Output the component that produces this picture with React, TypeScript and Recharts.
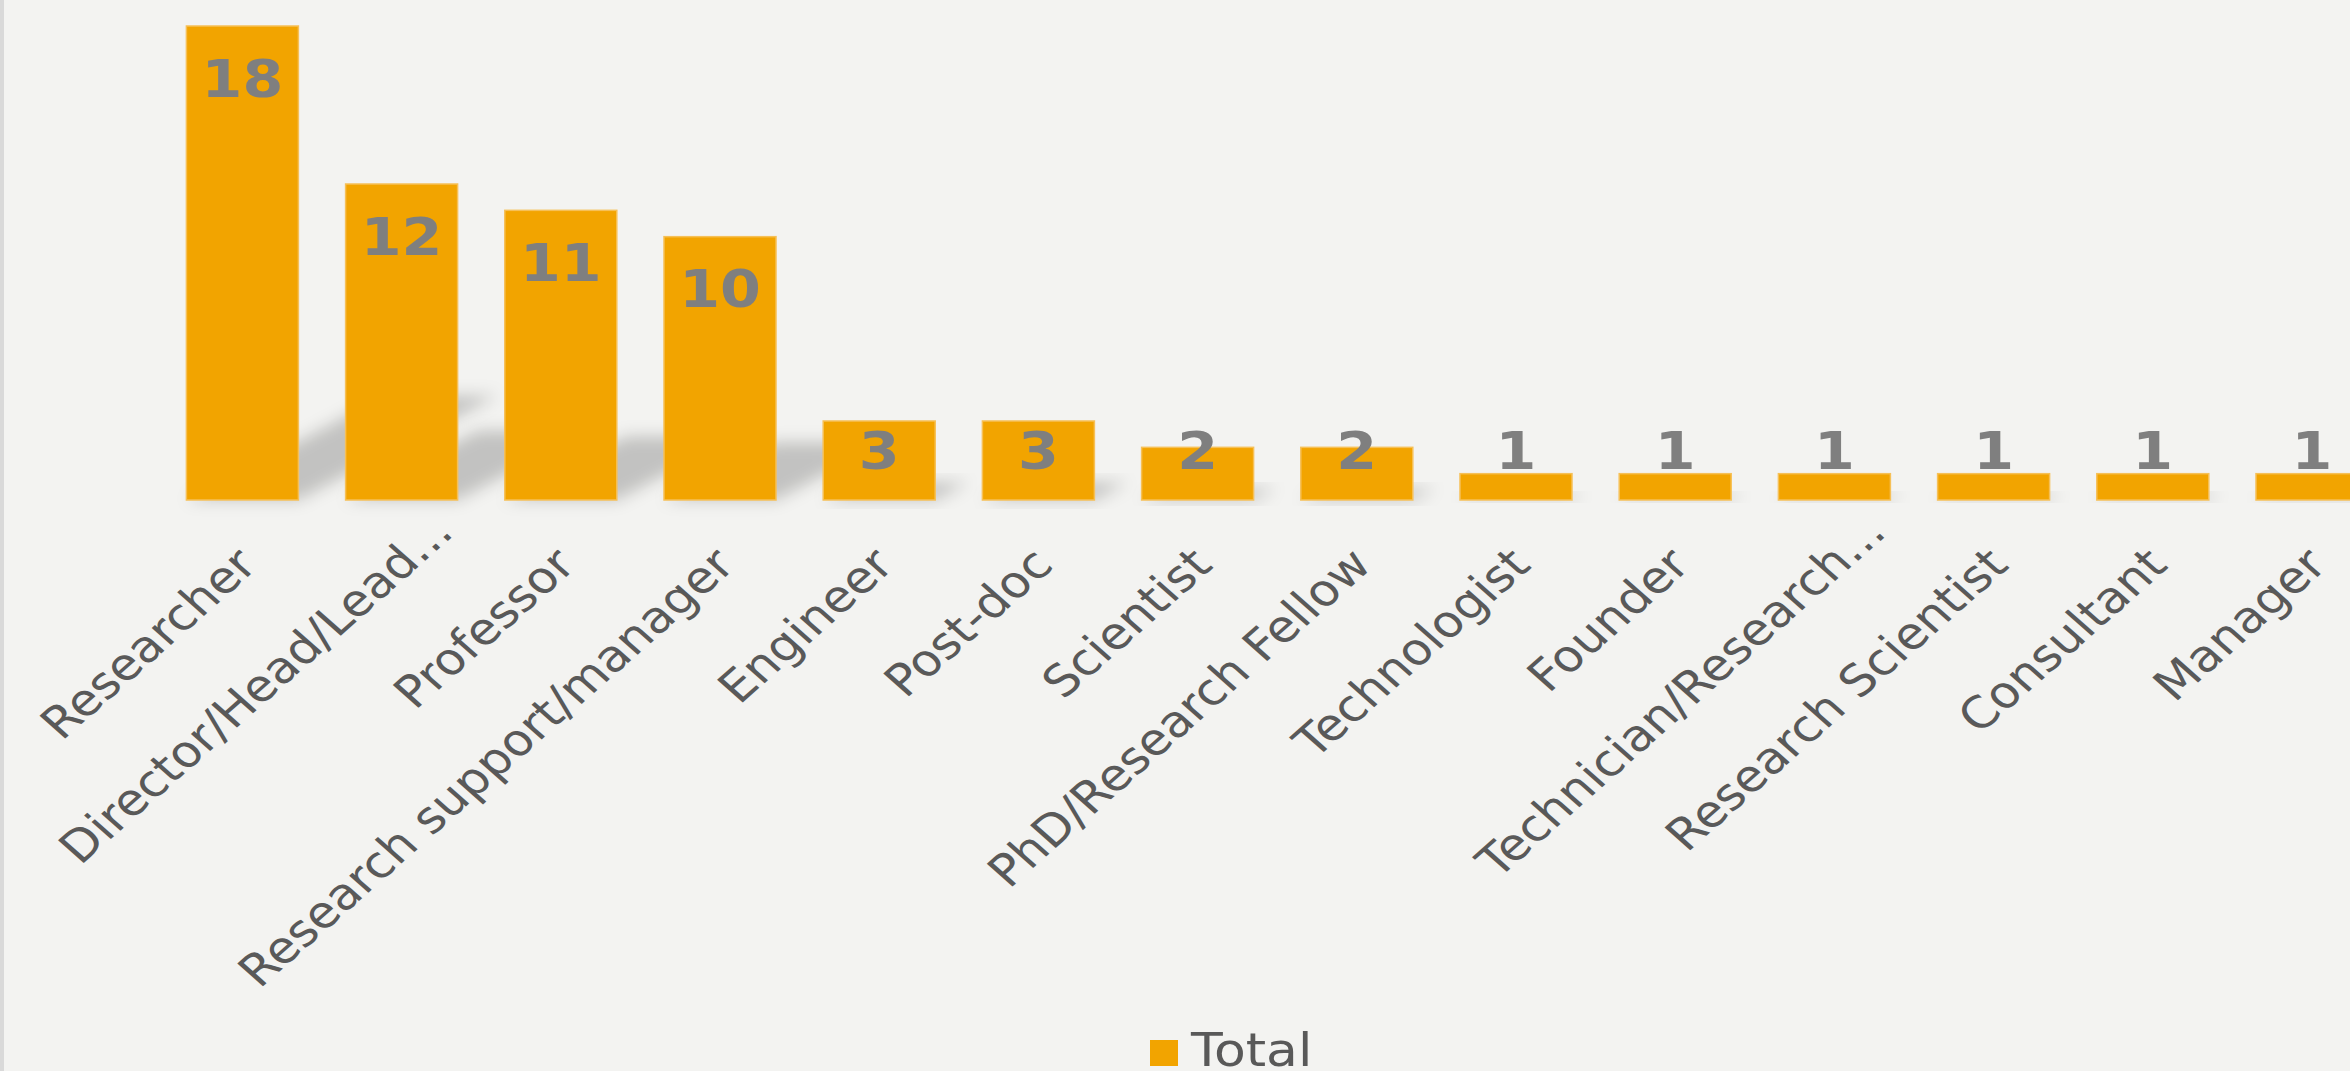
import React from 'react'
import { BarChart, Bar, XAxis, YAxis, Legend, LabelList } from 'recharts'

const categories = [
  'Researcher',
  'Director/Head/Lead...',
  'Professor',
  'Research support/manager',
  'Engineer',
  'Post-doc',
  'Scientist',
  'PhD/Research Fellow',
  'Technologist',
  'Founder',
  'Technician/Research...',
  'Research Scientist',
  'Consultant',
  'Manager',
]

const totals = [18, 12, 11, 10, 3, 3, 2, 2, 1, 1, 1, 1, 1, 1]

const seriesName = 'Total'

const data = categories.map((name, i) => ({ name, total: totals[i] }))

const BAR_COLOR = '#F2A400'
const FONT = '"DejaVu Sans", Verdana, sans-serif'
const STRETCH = 1.13
const CHART_W = 2470
const CHART_H = 1100

// bar with a soft perspective shadow thrown up and to the right
const ShadowBar = (props: any) => {
  const { x, y, width, height, index } = props
  if (!height || height <= 0) return null
  const base = y + height
  const dx = height * 0.42
  const dy = height * 0.22
  const id = `bar-shadow-${index}`
  const pts = [
    [x, base],
    [x + width, base],
    [x + width + dx, base - dy],
    [x + dx, base - dy],
  ]
    .map((p) => p.join(','))
    .join(' ')
  return (
    <g>
      <defs>
        <filter id={id} x="-50%" y="-50%" width="200%" height="200%">
          <feGaussianBlur stdDeviation="8" />
        </filter>
      </defs>
      <polygon points={pts} fill="#000" fillOpacity={0.2} filter={`url(#${id})`} />
      <rect x={x} y={y} width={width} height={height} fill={BAR_COLOR} stroke="#F6C057" strokeWidth={1.5} />
    </g>
  )
}

const ValueLabel = (props: any) => {
  const { x, y, width, height, value } = props
  const cx = x + width / 2
  const cy = Math.min(y + 53, y + height - 49)
  return (
    <text
      transform={`translate(${cx},${cy}) scale(${STRETCH},1)`}
      textAnchor="middle"
      dominantBaseline="central"
      fill="#7F7F7F"
      fontFamily={FONT}
      fontWeight="bold"
      fontSize={52}
    >
      {value}
    </text>
  )
}

const CategoryTick = (props: any) => {
  const { x, y, payload } = props
  const label: string = payload.value
  const shift = label.endsWith('...') ? '1.05em' : 0
  return (
    <text
      transform={`translate(${x + 17},${y + 67}) scale(${STRETCH},1) rotate(-45)`}
      textAnchor="end"
      dx={shift}
      fill="#595959"
      fontFamily={FONT}
      fontSize={44}
    >
      {label}
    </text>
  )
}

const LegendBox = () => (
  <div style={{ height: 34, display: 'flex', justifyContent: 'center', alignItems: 'flex-start' }}>
    <div style={{ width: 28, height: 26, marginTop: 4, background: BAR_COLOR, marginRight: 13 }} />
    <div style={{ width: 130, height: 34, marginTop: -4 }}>
      <span
        style={{
          display: 'inline-block',
          transform: `scaleX(${STRETCH})`,
          transformOrigin: 'left',
          fontFamily: FONT,
          fontSize: 46,
          lineHeight: '36px',
          color: '#595959',
          whiteSpace: 'nowrap',
        }}
      >
        {seriesName}
      </span>
    </div>
  </div>
)

export default function App() {
  return (
    <div
      style={{
        position: 'absolute',
        left: 0,
        top: 0,
        width: 2350,
        height: 1071,
        overflow: 'hidden',
        background: '#F3F3F1',
      }}
    >
      <BarChart
        width={CHART_W}
        height={CHART_H}
        data={data}
        margin={{ top: 26, right: 78.8, left: 162.4, bottom: 30 }}
      >
        <XAxis
          dataKey="name"
          interval={0}
          axisLine={false}
          tickLine={false}
          tickSize={0}
          tickMargin={0}
          height={536}
          tick={<CategoryTick />}
        />
        <YAxis hide domain={[0, 18]} />
        <Legend
          verticalAlign="bottom"
          wrapperStyle={{ left: 0, width: CHART_W }}
          content={() => <LegendBox />}
        />
        <Bar dataKey="total" name={seriesName} barSize={112} shape={<ShadowBar />} isAnimationActive={false}>
          <LabelList dataKey="total" content={<ValueLabel />} />
        </Bar>
      </BarChart>
      <div style={{ position: 'absolute', left: 0, top: 0, width: 4, height: 1071, background: '#D9D9D9' }} />
    </div>
  )
}
